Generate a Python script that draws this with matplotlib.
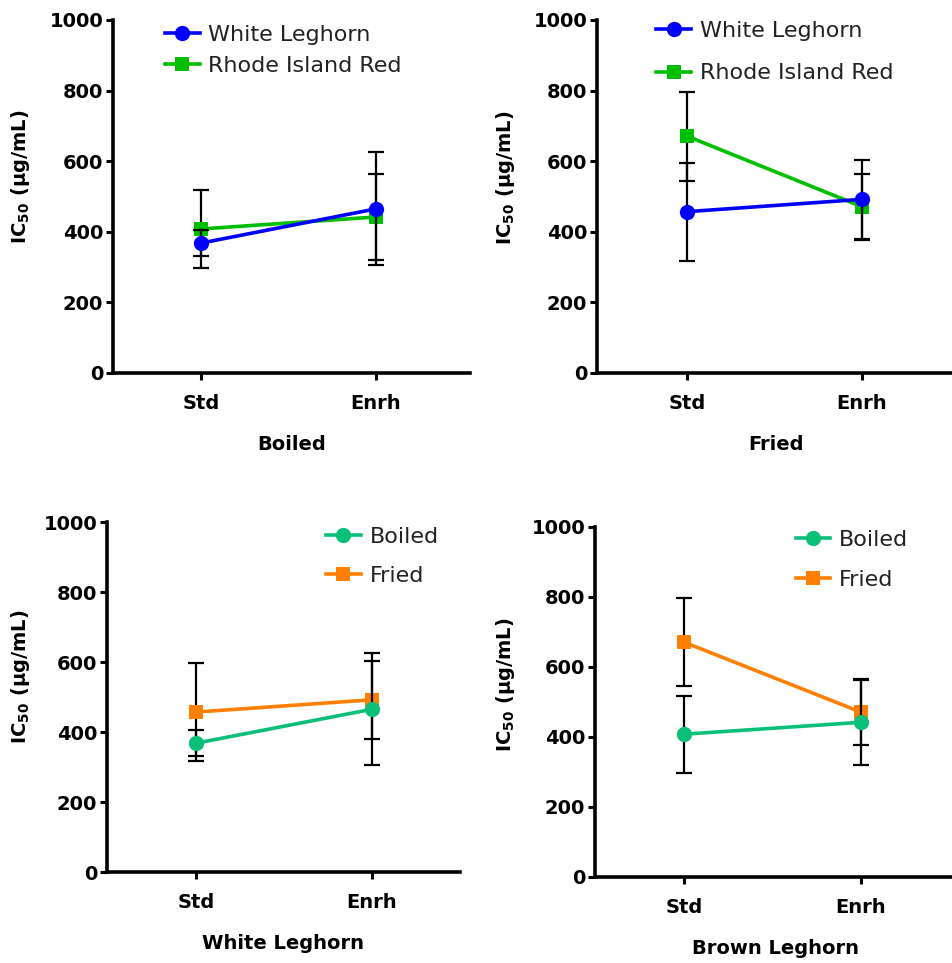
import matplotlib
matplotlib.use("Agg")
import matplotlib.pyplot as plt
import numpy as np

# ---- data ----
groups = ["Std", "Enrh"]
wl_boiled = [368, 465]
wl_boiled_err = [37, 160]
rir_boiled = [408, 442]
rir_boiled_err = [110, 121]
wl_fried = [457, 492]
wl_fried_err = [139, 112]
rir_fried = [671, 471]
rir_fried_err = [126, 94]

yticks = [0, 200, 400, 600, 800, 1000]

BLUE = "#0000FF"
GREEN = "#00BE00"
TEAL = "#0ABF78"
ORANGE = "#FF8000"

plt.rcParams['font.family'] = ['DejaVu Sans']

fig = plt.figure(figsize=(9.52, 9.63), dpi=100)

W, H = 952.0, 963.0

def make_ax(left_px, bottom_px, top_px, std_px, spacing_px, right_px):
    x0 = left_px / W
    y0 = 1 - bottom_px / H
    h = (bottom_px - top_px) / H
    w = (right_px - left_px) / W
    ax = fig.add_axes([x0, y0, w, h])
    ax.set_xlim((left_px - std_px) / spacing_px, (right_px - std_px) / spacing_px)
    ax.set_ylim(0, 1000)
    return ax, right_px - left_px

panels = [
    dict(geom=(113, 373, 20, 201, 175, 470), xlabel="Boiled",
         series=[("Rhode Island Red", rir_boiled, rir_boiled_err, GREEN, 's'),
                 ("White Leghorn", wl_boiled, wl_boiled_err, BLUE, 'o')],
         leg=(0.146, 0.986), ls=0.5, ylab=(-81, 0.555)),
    dict(geom=(597, 373, 20, 687, 175, 955), xlabel="Fried",
         series=[("Rhode Island Red", rir_fried, rir_fried_err, GREEN, 's'),
                 ("White Leghorn", wl_fried, wl_fried_err, BLUE, 'o')],
         leg=(0.166, 0.997), ls=1.0, ylab=(-80, 0.552)),
    dict(geom=(107, 872, 522, 196, 176, 460), xlabel="White Leghorn",
         series=[("Fried", wl_fried, wl_fried_err, ORANGE, 's'),
                 ("Boiled", wl_boiled, wl_boiled_err, TEAL, 'o')],
         leg=(0.621, 0.986), ls=0.86, ylab=(-75, 0.557)),
    dict(geom=(595, 877, 527, 684, 177, 955), xlabel="Brown Leghorn",
         series=[("Fried", rir_fried, rir_fried_err, ORANGE, 's'),
                 ("Boiled", rir_boiled, rir_boiled_err, TEAL, 'o')],
         leg=(0.558, 0.991), ls=0.9, ylab=(-78, 0.549)),
]

x = np.arange(len(groups))

for p in panels:
    ax, wpx = make_ax(*p["geom"])
    handles = {}
    for i, (label, vals, errs, color, marker) in enumerate(p["series"]):
        ax.errorbar(x, vals, yerr=errs, fmt='none', ecolor='black',
                    elinewidth=1.6, capsize=6, capthick=1.6, zorder=2 + 2 * i)
        h, = ax.plot(x, vals, color=color, lw=2.6, marker=marker,
                     markersize=11 if marker == 'o' else 10.5,
                     markeredgewidth=0, zorder=3 + 2 * i, label=label)
        handles[label] = h
    # legend: circle series first
    order = [s[0] for s in p["series"]][::-1]
    leg = ax.legend([handles[k] for k in order], order, loc='upper left',
                    bbox_to_anchor=p["leg"], frameon=False, fontsize=16,
                    handlelength=1.55, handletextpad=0.4, borderpad=0,
                    borderaxespad=0, labelspacing=p["ls"])
    for t in leg.get_texts():
        t.set_color('#222222')

    ax.set_xticks(x)
    ax.set_xticklabels(groups, fontsize=14, fontweight='bold')
    ax.set_yticks(yticks)
    ax.set_yticklabels([str(v) for v in yticks], fontsize=14, fontweight='bold')
    for s in ['top', 'right']:
        ax.spines[s].set_visible(False)
    for s in ['left', 'bottom']:
        ax.spines[s].set_linewidth(2.6)
    ax.tick_params(axis='y', length=5, width=2.2, pad=2)
    ax.tick_params(axis='x', length=5, width=2.2, pad=10)
    ax.set_xlabel(p["xlabel"], fontsize=14, fontweight='bold', labelpad=16)
    ax.set_ylabel(r"IC$_{\mathbf{50}}$ (µg/mL)", fontsize=14, fontweight='bold')
    ax.yaxis.set_label_coords(p["ylab"][0] / wpx, p["ylab"][1])

fig.savefig("out.png", dpi=100)
